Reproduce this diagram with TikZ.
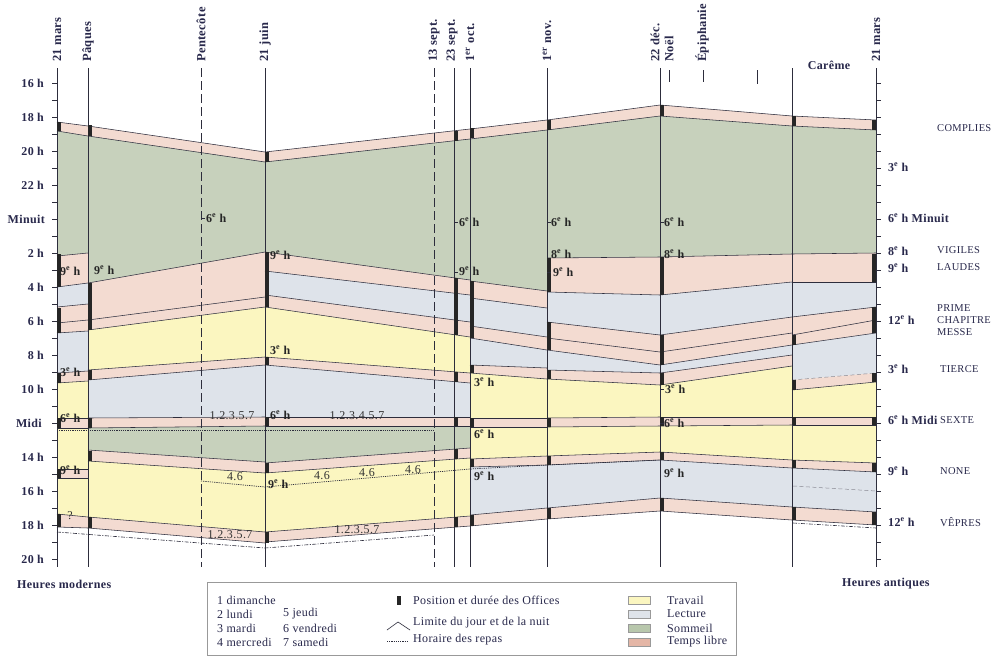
\documentclass[tikz,border=0pt]{standalone}
\usepackage{fontspec}
\setmainfont{Liberation Serif}[LetterSpace=3]
\definecolor{travail}{RGB}{251,246,192}
\definecolor{lecture}{RGB}{222,227,234}
\definecolor{sommeil}{RGB}{199,209,188}
\definecolor{libre}{RGB}{243,219,209}
\definecolor{sommeilsw}{RGB}{184,199,172}
\definecolor{libresw}{RGB}{228,182,166}
\definecolor{linec}{RGB}{45,45,60}
\definecolor{txt}{RGB}{40,40,75}
\newcommand\eme{\textsuperscript{e}}
\newcommand\mkcol[5]{%
  \foreach \ya/\yb/\yc/\yd/\cc/\ss in {#3}{\fill[fill=\cc] (#1,\ya) -- (#2,\yb) -- (#2,\yd) -- (#1,\yc) -- cycle;}%
  \foreach \ya/\yb/\yc/\yd/\cc/\ss in {#3}{\draw[\ss] (#1,\ya) -- (#2,\yb);}%
  \draw[bnd] (#1,#4) -- (#2,#5);}
\begin{document}
\begin{tikzpicture}[x=1pt,y=-1pt,
  bnd/.style={draw=linec,line width=0.55pt},
  dsh/.style={draw=linec!55,line width=0.5pt,dash pattern=on 4pt off 2.5pt},
  vl/.style={draw=linec,line width=0.6pt},
  vd/.style={draw=linec,line width=0.7pt,dash pattern=on 9pt off 4pt},
  off/.style={fill=black!85},
  repas/.style={draw=linec,line width=0.7pt,dash pattern=on 1.2pt off 1pt},
  repastwo/.style={draw=linec,line width=0.6pt,dash pattern=on 4pt off 1.5pt on 1pt off 1.5pt},
  lab/.style={inner sep=0pt,text=txt},
  hl/.style={lab,font=\fontsize{12}{14}\selectfont\bfseries,anchor=east},
  dl/.style={lab,font=\fontsize{12.5}{14}\selectfont\bfseries,rotate=90,anchor=west},
  il/.style={lab,font=\fontsize{12}{14}\selectfont\bfseries,text=black!85,anchor=west},
  nl/.style={lab,font=\fontsize{12}{14}\selectfont,text=black!80,anchor=center},
  rl/.style={lab,font=\fontsize{12}{14}\selectfont\bfseries,anchor=west},
  ol/.style={lab,font=\fontsize{10.5}{12}\selectfont,anchor=west},
  lg/.style={lab,font=\fontsize{12}{14}\selectfont,anchor=west},
  sw/.style={draw=black!40,line width=0.5pt},
]
\useasboundingbox (0,0) rectangle (1004,656);
\fill[white] (0,0) rectangle (1004,656);

% ---------- bands, column by column ----------
\mkcol{57}{88}{122/126/131/136/libre/bnd, 131/136/256/253/sommeil/bnd, 256/253/287/283/libre/bnd,
 287/283/307/304/lecture/bnd, 307/304/323/320/libre/bnd, 323/320/333/331/libre/bnd,
 333/331/373/371/lecture/bnd, 373/371/383/381/libre/bnd, 383/381/418/418/travail/bnd,
 418/418/428/428/libre/bnd, 428/428/469/469/travail/bnd, 469/469/478/478/libre/bnd,
 478/478/514/517/travail/bnd, 514/517/527/528/libre/bnd}{527}{528}

\mkcol{88}{265}{126/152/136/162/libre/bnd, 136/162/283/252/sommeil/bnd, 283/252/320/297/libre/bnd,
 320/297/330/307/libre/bnd, 330/307/370/357/travail/bnd, 370/357/380/365/libre/bnd,
 380/365/418/417/lecture/bnd, 418/417/428/426/libre/bnd, 428/426/450/462/sommeil/bnd,
 450/462/461/473/libre/bnd, 461/473/517/532/travail/bnd, 517/532/528/543/libre/bnd}{528}{543}

\mkcol{265}{470}{152/129/162/139/libre/bnd, 162/139/252/280/sommeil/bnd, 252/280/271/295/libre/bnd,
 271/295/295/322/lecture/bnd, 295/322/307/337/libre/bnd, 307/337/357/373/travail/bnd,
 357/373/365/383/libre/bnd, 365/383/417/417/lecture/bnd, 417/417/426/426/libre/bnd,
 426/426/463/448/sommeil/bnd, 463/448/473/458/libre/bnd, 473/458/532/516/travail/bnd,
 532/516/542/526/libre/bnd}{542}{526}

\mkcol{470}{547}{129/120/139/130/libre/bnd, 139/130/281/291/sommeil/bnd, 281/291/298/308/libre/bnd,
 298/308/326/337/lecture/bnd, 326/337/338/350/libre/bnd, 338/350/365/368/lecture/bnd,
 365/368/373/379/libre/bnd, 373/379/418/418/travail/bnd, 418/418/427/427/libre/bnd,
 427/427/459/456/travail/bnd, 459/456/467/465/libre/bnd, 467/465/515/508/lecture/bnd,
 515/508/526/519/libre/bnd}{526}{519}

\mkcol{547}{660}{120/105/130/116/libre/bnd, 130/116/258/257/sommeil/bnd, 258/257/292/295/libre/bnd,
 292/295/322/335/lecture/bnd, 322/335/338/352/libre/bnd, 338/352/350/365/libre/bnd,
 350/365/370/373/lecture/bnd, 370/373/379/385/libre/bnd, 379/385/418/417/travail/bnd,
 418/417/427/426/libre/bnd, 427/426/456/452/travail/bnd, 456/452/465/460/libre/bnd,
 465/460/508/498/lecture/bnd, 508/498/519/511/libre/bnd}{519}{511}

\mkcol{660}{792}{105/116/116/126/libre/bnd, 116/126/257/254/sommeil/bnd, 257/254/295/282/libre/bnd,
 295/282/335/317/lecture/bnd, 335/317/352/333/libre/bnd, 352/333/365/345/libre/bnd,
 365/345/373/355/lecture/bnd, 373/355/385/366/libre/bnd, 385/366/417/417/travail/bnd,
 417/417/426/425/libre/bnd, 426/425/452/460/travail/bnd, 452/460/460/468/libre/bnd,
 460/468/498/507/lecture/bnd, 498/507/511/520/libre/bnd}{511}{520}

\mkcol{792}{876}{116/120/126/130/libre/bnd, 126/130/254/253/sommeil/bnd, 254/253/282/282/libre/bnd,
 282/282/317/307/lecture/bnd, 317/307/335/320/libre/bnd, 335/320/345/333/libre/bnd,
 345/333/380/373/lecture/bnd, 380/373/390/382/libre/dsh, 390/382/417/417/travail/bnd,
 417/417/425/425/libre/bnd, 425/425/460/463/travail/bnd, 460/463/468/472/libre/bnd,
 468/472/507/512/lecture/bnd, 507/512/520/525/libre/bnd}{520}{525}
\draw[dsh] (793,486) -- (876,491);

% ---------- meal lines ----------
\draw[repas] (57,430) -- (434,430);
\draw[repas] (201,481) -- (265,487) -- (470,469) -- (547,465) -- (660,460);
\draw[repastwo] (57,532) -- (265,548) -- (434,535);
\draw[repastwo] (793,523) -- (876,528);

% ---------- vertical lines ----------
\foreach \x in {57,88,265,454,470,547,660,792,876} \draw[vl] (\x,68) -- (\x,567);
\draw[vd] (201,68) -- (201,567);
\draw[vd] (434,68) -- (434,567);
\draw[vl] (669,70) -- (669,82);
\draw[vl] (703,70) -- (703,82);
\draw[vl] (757,70) -- (757,84);
\foreach \k in {0,...,28} {\draw[vl] (52,83+17*\k) -- (57,83+17*\k); \draw[vl] (876,83+17*\k) -- (881,83+17*\k);}

% ---------- office markers ----------
\foreach \x/\a/\b in {57/122/131, 57/254/287, 57/308/333, 57/373/383, 57/418/428, 57/469/478, 57/514/527,
 88/125/136, 88/283/330, 88/370/380, 88/418/428, 88/451/461, 88/517/528,
 265/152/162, 265/252/307, 265/357/365, 265/417/426, 265/463/473, 265/532/543,
 454/131/141, 454/278/335, 454/372/382, 454/417/426, 454/449/459, 454/517/527,
 470/128/138, 470/281/338, 470/365/373, 470/418/427, 470/459/467, 470/515/526,
 547/120/130, 547/258/292, 547/322/350, 547/370/379, 547/418/427, 547/456/465, 547/508/519,
 660/105/116, 660/257/295, 660/335/365, 660/373/385, 660/417/426, 660/452/460, 660/498/511,
 792/116/126, 792/335/345, 792/380/390, 792/417/425, 792/460/468, 792/507/520}
 \fill[off] (\x+0.4,\a) rectangle (\x+4.4,\b);
\foreach \a/\b in {120/130, 254/282, 307/333, 373/382, 417/425, 463/472, 512/525}
 \fill[off] (872,\a) rectangle (875.8,\b);

% ---------- small ticks beside labels ----------
\foreach \x/\y in {201/218, 454/222, 454/272, 547/222, 547/272, 660/222, 660/389, 660/423}
 \draw[vl] (\x,\y) -- (\x+3.5,\y);

% ---------- date labels ----------
\node[dl] (d1) at (57,62) {21 mars};
\node[dl] (d2) at (88,62) {Pâques};
\node[dl] (d3) at (201,62) {Pentecôte};
\node[dl] (d4) at (265,62) {21 juin};
\node[dl] (d5) at (434,62) {13 sept.};
\node[dl] (d6) at (452,62) {23 sept.};
\node[dl] (d7) at (470,62) {1\textsuperscript{er} oct.};
\node[dl] (d8) at (547,62) {1\textsuperscript{er} nov.};
\node[dl] (d9) at (655,62) {22 déc.};
\node[dl] (d10) at (669,62) {Noël};
\node[dl] (d11) at (702,62) {Épiphanie};
\node[lab,font=\fontsize{12}{14}\selectfont\bfseries] (d12) at (829,65) {Carême};
\node[dl] (d13) at (876,62) {21 mars};

% ---------- modern hours ----------
\node[hl] (m1) at (44,83) {16 h};
\node[hl] (m2) at (44,117) {18 h};
\node[hl] (m3) at (44,151) {20 h};
\node[hl] (m4) at (44,185) {22 h};
\node[hl] (m5) at (45,219) {Minuit};
\node[hl] (m6) at (44,253) {2 h};
\node[hl] (m7) at (44,287) {4 h};
\node[hl] (m8) at (44,321) {6 h};
\node[hl] (m9) at (44,355) {8 h};
\node[hl] (m10) at (44,389) {10 h};
\node[hl] (m11) at (42,423) {Midi};
\node[hl] (m12) at (44,457) {14 h};
\node[hl] (m13) at (44,491) {16 h};
\node[hl] (m14) at (44,525) {18 h};
\node[hl] (m15) at (44,559) {20 h};
\node[lab,font=\fontsize{12}{14}\selectfont\bfseries,anchor=west] (hm) at (17,584) {Heures modernes};
\node[lab,font=\fontsize{12}{14}\selectfont\bfseries,anchor=west] (ha) at (842,584) {Heures antiques};

% ---------- ancient hours and offices ----------
\node[rl] (a1) at (888,167) {3\eme~h};
\node[rl] (a2) at (888,218) {6\eme~h Minuit};
\node[rl] (a3) at (888,251) {8\eme~h};
\node[rl] (a4) at (888,268) {9\eme~h};
\node[rl] (a5) at (888,320) {12\eme~h};
\node[rl] (a6) at (888,369) {3\eme~h};
\node[rl] (a7) at (888,420) {6\eme~h Midi};
\node[rl] (a8) at (888,471) {9\eme~h};
\node[rl] (a9) at (888,522) {12\eme~h};
\node[ol] (o1) at (937,128) {COMPLIES};
\node[ol] (o2) at (937,250) {VIGILES};
\node[ol] (o3) at (937,267) {LAUDES};
\node[ol] (o4) at (937,308) {PRIME};
\node[ol] (o5) at (937,320) {CHAPITRE};
\node[ol] (o6) at (937,332) {MESSE};
\node[ol] (o7) at (940,369) {TIERCE};
\node[ol] (o8) at (940,420) {SEXTE};
\node[ol] (o9) at (940,471) {NONE};
\node[ol] (o10) at (940,522) {VÊPRES};

% ---------- labels inside the chart ----------
\node[il] (i1) at (60,271) {9\eme~h};
\node[il] (i2) at (94,270) {9\eme~h};
\node[il] (i3) at (206,218) {6\eme~h};
\node[il] (i4) at (270,255) {9\eme~h};
\node[il] (i5) at (270,350) {3\eme~h};
\node[il] (i6) at (270,415) {6\eme~h};
\node[il] (i7) at (60,372) {3\eme~h};
\node[il] (i8) at (60,418) {6\eme~h};
\node[il] (i9) at (60,470) {9\eme~h};
\node[nl] (i10) at (70,516) {?};
\node[il] (i11) at (459,222) {6\eme~h};
\node[il] (i12) at (459,271) {9\eme~h};
\node[il] (i13) at (474,382) {3\eme~h};
\node[il] (i14) at (474,434) {6\eme~h};
\node[il] (i15) at (474,476) {9\eme~h};
\node[il] (i16) at (551,222) {6\eme~h};
\node[il] (i17) at (551,254) {8\eme~h};
\node[il] (i18) at (553,272) {9\eme~h};
\node[il] (i19) at (664,222) {6\eme~h};
\node[il] (i20) at (664,254) {8\eme~h};
\node[il] (i21) at (665,389) {3\eme~h};
\node[il] (i22) at (664,423) {6\eme~h};
\node[il] (i23) at (664,473) {9\eme~h};
\node[il] (i24) at (268,484) {9\eme~h};
\node[nl] (n1) at (232,416) {1.2.3.5.7};
\node[nl] (n2) at (357,416) {1.2.3.4.5.7};
\node[nl] (n3) at (235,477) {4.6};
\node[nl] (n4) at (322,476) {4.6};
\node[nl] (n5) at (367,473) {4.6};
\node[nl] (n6) at (413,470) {4.6};
\node[nl] (n7) at (230,535) {1.2.3.5.7};
\node[nl] (n8) at (357,530) {1.2.3.5.7};

% ---------- legend ----------
\draw[draw=black!40,line width=0.6pt] (207,582) rectangle (736,655);
\node[lg] (l1) at (217,600) {1 dimanche};
\node[lg] (l2) at (217,614) {2 lundi};
\node[lg] (l3) at (217,628) {3 mardi};
\node[lg] (l4) at (217,642) {4 mercredi};
\node[lg] (l5) at (283,614) {5 jeudi};
\node[lg] (l6) at (283,628) {6 vendredi};
\node[lg] (l7) at (283,642) {7 samedi};
\fill[off] (396.5,596) rectangle (400.5,604.5);
\node[lg] (l8) at (413,600) {Position et durée des Offices};
\draw[draw=linec,line width=0.6pt] (387,630) -- (398,622) -- (410,630);
\node[lg] (l9) at (413,623) {Limite du jour et de la nuit};
\draw[repas] (387,641) -- (408,641);
\node[lg] (l10) at (413,640) {Horaire des repas};
\filldraw[sw,fill=travail] (628,596) rectangle (650,604);
\filldraw[sw,fill=lecture] (628,610) rectangle (650,618);
\filldraw[sw,fill=sommeilsw] (628,624) rectangle (650,632);
\filldraw[sw,fill=libresw] (628,638) rectangle (650,646);
\node[lg] (l11) at (667,600) {Travail};
\node[lg] (l12) at (667,614) {Lecture};
\node[lg] (l13) at (667,628) {Sommeil};
\node[lg] (l14) at (667,642) {Temps libre};
\end{tikzpicture}
\end{document}
